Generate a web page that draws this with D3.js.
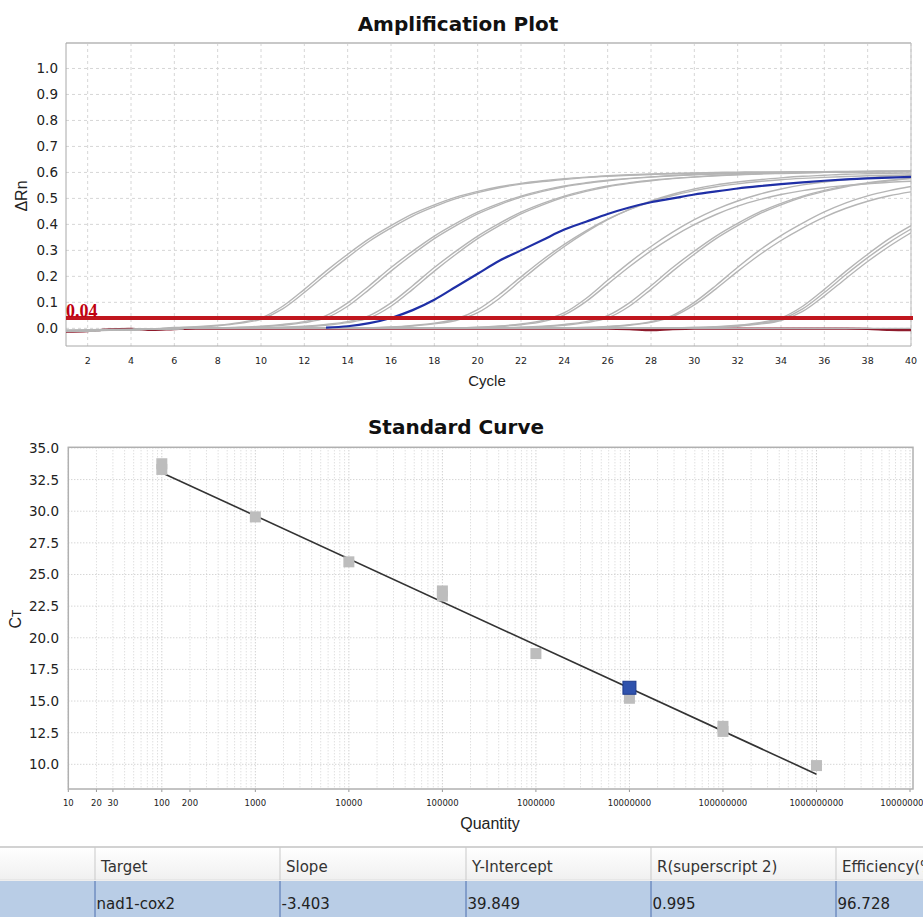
<!DOCTYPE html>
<html>
<head>
<meta charset="utf-8">
<script src="https://cdn.jsdelivr.net/npm/d3@7"></script>
<style>
  body { margin: 0; background: #fff; }
  svg { display: block; }
  text { font-family: "DejaVu Sans", sans-serif; fill: #222; }
</style>
</head>
<body>
<svg id="chart" width="923" height="917"></svg>
<script>
// ---- amplification plot data (delta Rn per cycle) ----
const cycles = [1,2,3,4,5,6,7,8,9,10,11,12,13,14,15,16,17,18,19,20,
                21,22,23,24,25,26,27,28,29,30,31,32,33,34,35,36,37,38,39,40];

const g1a = [-0.010,-0.009,-0.007,-0.005,-0.003, 0.003,0.006,0.012,0.022,0.040,
             0.085,0.150,0.220,0.285,0.345, 0.395,0.440,0.475,0.505,0.527,
             0.545,0.558,0.568,0.576,0.582, 0.587,0.591,0.594,0.596,0.598,
             0.600,0.601,0.602,0.602,0.603, 0.603,0.604,0.604,0.605,0.605];
const g1b = [-0.011,-0.010,-0.008,-0.005,-0.003, 0.002,0.005,0.010,0.019,0.035,
             0.075,0.138,0.207,0.273,0.335, 0.386,0.432,0.468,0.499,0.522,
             0.541,0.555,0.565,0.573,0.580, 0.585,0.589,0.592,0.595,0.597,
             0.598,0.599,0.600,0.600,0.601, 0.601,0.602,0.602,0.603,0.603];
const g2a = [-0.010,-0.009,-0.007,-0.005,-0.003, -0.001,0.001,0.002,0.004,0.008,
             0.015,0.026,0.049,0.098,0.164, 0.234,0.297,0.355,0.404,0.447,
             0.481,0.509,0.531,0.548,0.560, 0.570,0.577,0.583,0.588,0.592,
             0.595,0.597,0.599,0.600,0.601, 0.602,0.603,0.604,0.605,0.606];
const g2b = [-0.009,-0.008,-0.007,-0.005,-0.003, -0.001,0.001,0.002,0.003,0.006,
             0.012,0.022,0.040,0.085,0.150, 0.220,0.285,0.345,0.395,0.440,
             0.475,0.505,0.527,0.545,0.558, 0.568,0.576,0.582,0.587,0.591,
             0.594,0.596,0.598,0.600,0.601, 0.602,0.603,0.604,0.605,0.606];
const g3a = [-0.010,-0.009,-0.007,-0.005,-0.003, -0.001,0.001,0.002,0.002,0.002,
             0.004,0.008,0.015,0.026,0.049, 0.098,0.164,0.234,0.297,0.355,
             0.404,0.447,0.481,0.509,0.531, 0.548,0.560,0.570,0.577,0.583,
             0.588,0.592,0.595,0.597,0.599, 0.600,0.601,0.602,0.603,0.604];
const g3b = [-0.010,-0.009,-0.007,-0.005,-0.003, -0.001,0.001,0.002,0.002,0.002,
             0.003,0.006,0.012,0.022,0.040, 0.085,0.150,0.220,0.285,0.345,
             0.395,0.440,0.475,0.505,0.527, 0.545,0.558,0.568,0.576,0.582,
             0.587,0.591,0.594,0.596,0.598, 0.600,0.601,0.602,0.603,0.604];
const g4a = [-0.010,-0.009,-0.007,-0.005,-0.003, -0.001,0.001,0.002,0.002,0.002,
             0.002,0.002,0.002,0.002,0.002, 0.004,0.009,0.017,0.030,0.060,
             0.115,0.185,0.253,0.315,0.370, 0.418,0.458,0.490,0.516,0.536,
             0.552,0.563,0.572,0.579,0.585, 0.589,0.593,0.595,0.597,0.598];
const g4b = [-0.010,-0.009,-0.007,-0.005,-0.003, -0.001,0.001,0.002,0.002,0.002,
             0.002,0.002,0.002,0.002,0.002, 0.005,0.011,0.020,0.036,0.072,
             0.130,0.198,0.264,0.323,0.375, 0.420,0.457,0.487,0.511,0.530,
             0.545,0.556,0.565,0.572,0.577, 0.581,0.584,0.587,0.589,0.590];
const g5a = [-0.010,-0.009,-0.007,-0.005,-0.003, -0.001,0.001,0.002,0.002,0.002,
             0.002,0.002,0.002,0.002,0.002, 0.002,0.002,0.002,0.002,0.004,
             0.009,0.017,0.030,0.060,0.115, 0.185,0.253,0.315,0.370,0.418,
             0.458,0.490,0.516,0.536,0.552, 0.563,0.572,0.579,0.585,0.589];
const g5b = [-0.010,-0.009,-0.007,-0.005,-0.003, -0.001,0.001,0.002,0.002,0.002,
             0.002,0.002,0.002,0.002,0.002, 0.002,0.002,0.002,0.002,0.003,
             0.007,0.014,0.026,0.052,0.103, 0.170,0.237,0.298,0.352,0.399,
             0.438,0.470,0.495,0.515,0.530, 0.541,0.550,0.556,0.562,0.566];
const g6a = [-0.010,-0.009,-0.007,-0.005,-0.003, -0.001,0.001,0.002,0.002,0.002,
             0.002,0.002,0.002,0.002,0.002, 0.002,0.002,0.002,0.002,0.002,
             0.002,0.003,0.006,0.012,0.022, 0.040,0.085,0.150,0.220,0.285,
             0.345,0.395,0.440,0.475,0.505, 0.527,0.545,0.558,0.568,0.576];
const g6b = [-0.010,-0.009,-0.007,-0.005,-0.003, -0.001,0.001,0.002,0.002,0.002,
             0.002,0.002,0.002,0.002,0.002, 0.002,0.002,0.002,0.002,0.002,
             0.002,0.004,0.008,0.015,0.026, 0.049,0.098,0.164,0.234,0.297,
             0.355,0.404,0.447,0.481,0.509, 0.531,0.548,0.560,0.570,0.577];
const g7a = [-0.010,-0.009,-0.007,-0.005,-0.003, -0.001,0.001,0.002,0.002,0.002,
             0.002,0.002,0.002,0.002,0.002, 0.002,0.002,0.002,0.002,0.002,
             0.002,0.002,0.002,0.002,0.003, 0.007,0.014,0.026,0.050,0.100,
             0.165,0.235,0.300,0.357,0.405, 0.448,0.483,0.510,0.530,0.546];
const g7b = [-0.010,-0.009,-0.007,-0.005,-0.003, -0.001,0.001,0.002,0.002,0.002,
             0.002,0.002,0.002,0.002,0.002, 0.002,0.002,0.002,0.002,0.002,
             0.002,0.002,0.002,0.002,0.003, 0.006,0.012,0.023,0.045,0.090,
             0.152,0.219,0.282,0.338,0.386, 0.428,0.462,0.489,0.510,0.525];
const g8a = [-0.010,-0.009,-0.007,-0.005,-0.003, -0.001,0.001,0.002,0.002,0.002,
             0.002,0.002,0.002,0.002,0.002, 0.002,0.002,0.002,0.002,0.002,
             0.002,0.002,0.002,0.002,0.002, 0.002,0.002,0.002,0.002,0.003,
             0.006,0.012,0.022,0.040,0.085, 0.150,0.220,0.285,0.345,0.395];
const g8b = [-0.010,-0.009,-0.007,-0.005,-0.003, -0.001,0.001,0.002,0.002,0.002,
             0.002,0.002,0.002,0.002,0.002, 0.002,0.002,0.002,0.002,0.002,
             0.002,0.002,0.002,0.002,0.002, 0.002,0.002,0.002,0.002,0.003,
             0.005,0.010,0.019,0.035,0.075, 0.138,0.207,0.272,0.331,0.382];
const g8c = [-0.010,-0.009,-0.007,-0.005,-0.003, -0.001,0.001,0.002,0.002,0.002,
             0.002,0.002,0.002,0.002,0.002, 0.002,0.002,0.002,0.002,0.002,
             0.002,0.002,0.002,0.002,0.002, 0.002,0.002,0.002,0.002,0.002,
             0.004,0.008,0.016,0.030,0.065, 0.125,0.192,0.257,0.316,0.368];
const ntc = [-0.006,-0.005,-0.004,-0.003,-0.002, 0.000,0.000,0.000,0.000,0.000,
             0.000,0.000,0.000,0.000,0.000, 0.000,0.000,0.000,0.000,0.000,
             0.000,0.000,0.000,0.000,0.000, 0.000,0.000,0.000,0.000,0.000,
             0.000,0.000,0.000,0.000,0.000, 0.000,0.000,0.000,0.000,0.000];
const ntcRed = [-0.013,-0.011,-0.004,-0.002,-0.006, -0.003,-0.001,-0.001,-0.001,-0.001,
                -0.001,-0.001,-0.001,-0.001,-0.001, -0.001,-0.001,-0.001,-0.001,-0.001,
                -0.001,-0.001,-0.001,-0.001,-0.001, -0.001,-0.003,-0.007,-0.003,-0.001,
                -0.001,-0.001,-0.001,-0.001,-0.001, -0.001,-0.001,-0.002,-0.006,-0.007];
// selected well (blue), not visible before cycle 13
const selected = [null,null,null,null,null, null,null,null,null,null,
                  null,null,0.003,0.008,0.020, 0.040,0.070,0.110,0.160,0.210,
                  0.260,0.300,0.340,0.380,0.410, 0.440,0.465,0.485,0.500,0.515,
                  0.527,0.538,0.547,0.555,0.562, 0.568,0.573,0.577,0.580,0.583];

const grayCurves = [g8c, g8b, g8a, g7b, g7a, g6b, g6a, g5b, g5a, g4b, g4a,
                    g3b, g3a, g2b, g2a, g1b, g1a, ntc];
const threshold = 0.04;
const ampYTicks = [0.0,0.1,0.2,0.3,0.4,0.5,0.6,0.7,0.8,0.9,1.0];
const ampXTicks = [2,4,6,8,10,12,14,16,18,20,22,24,26,28,30,32,34,36,38,40];

// ---- standard curve data ----
const stdQuantity = [100, 100, 1000, 10000, 100000, 100000, 1000000,
                     10000000, 100000000, 100000000, 1000000000];
const stdCt = [33.3, 33.75, 29.55, 26.0, 23.3, 23.7, 18.75, 15.22, 12.6, 13.0, 9.9];
const unknownQuantity = [10000000];
const unknownCt = [16.05];
const stdXTickLabels = [10, 20, 30, 100, 200, 1000, 10000, 100000, 1000000,
                        10000000, 100000000, 1000000000, 10000000000];
const stdYTicks = [10.0, 12.5, 15.0, 17.5, 20.0, 22.5, 25.0, 27.5, 30.0, 32.5, 35.0];
const fitRange = [100, 1000000000];

// ---- results table ----
const tableHeaders = ['Target', 'Slope', 'Y-Intercept', 'R(superscript 2)', 'Efficiency(%)'];
const tableRow = ['nad1-cox2', '-3.403', '39.849', '0.995', '96.728'];
const fitSlope = -3.403;
const fitIntercept = 39.849;

const svg = d3.select('#chart');

// ================= Amplification Plot =================
const amp = { left: 66, right: 911, top: 43, bottom: 346 };
const xAmp = d3.scaleLinear().domain([1, 40]).range([amp.left, amp.right]);
const yAmp = d3.scaleLinear().domain([-0.068, 1.098]).range([amp.bottom, amp.top]);

svg.append('text')
    .attr('x', 458).attr('y', 31)
    .attr('text-anchor', 'middle')
    .style('font-size', '20px').style('font-weight', 'bold')
    .style('fill', '#111')
    .text('Amplification Plot');

const ampG = svg.append('g');

// grid
ampG.selectAll('.vgrid').data(ampXTicks).enter().append('line')
    .attr('x1', d => xAmp(d)).attr('x2', d => xAmp(d))
    .attr('y1', amp.top).attr('y2', amp.bottom)
    .attr('stroke', '#d6d6d6').attr('stroke-dasharray', '3,3');
ampG.selectAll('.hgrid').data(ampYTicks).enter().append('line')
    .attr('x1', amp.left).attr('x2', amp.right)
    .attr('y1', d => yAmp(d)).attr('y2', d => yAmp(d))
    .attr('stroke', '#d6d6d6').attr('stroke-dasharray', '3,3');

// tick labels
ampG.selectAll('.ylab').data(ampYTicks).enter().append('text')
    .attr('x', 58).attr('y', d => yAmp(d) + 5)
    .attr('text-anchor', 'end')
    .style('font-size', '13.5px')
    .text(d => d.toFixed(1));
ampG.selectAll('.xlab').data(ampXTicks).enter().append('text')
    .attr('x', d => xAmp(d)).attr('y', 364)
    .attr('text-anchor', 'middle')
    .style('font-size', '9.5px')
    .text(d => d);

svg.append('text')
    .attr('x', 487).attr('y', 386)
    .attr('text-anchor', 'middle')
    .style('font-family', '"Liberation Sans", Arial, sans-serif')
    .style('font-size', '15px')
    .text('Cycle');
svg.append('text')
    .attr('transform', 'translate(27,196) rotate(-90)')
    .attr('text-anchor', 'middle')
    .style('font-family', '"Liberation Sans", Arial, sans-serif')
    .style('font-size', '16px')
    .text('\u0394Rn');

const ampLine = d3.line()
    .defined(d => d != null)
    .x((d, i) => xAmp(cycles[i]))
    .y(d => yAmp(d))
    .curve(d3.curveMonotoneX);

svg.append('clipPath').attr('id', 'ampClip')
    .append('rect')
    .attr('x', amp.left).attr('y', amp.top)
    .attr('width', amp.right - amp.left).attr('height', amp.bottom - amp.top);

const curvesG = svg.append('g').attr('clip-path', 'url(#ampClip)');

curvesG.append('path')
    .attr('d', ampLine(ntcRed))
    .attr('fill', 'none').attr('stroke', '#8e1b2c').attr('stroke-width', 2.2);

curvesG.selectAll('.well').data(grayCurves).enter().append('path')
    .attr('d', d => ampLine(d))
    .attr('fill', 'none')
    .attr('stroke', '#b5b5b5')
    .attr('stroke-width', 1.4);

curvesG.append('path')
    .attr('d', ampLine(selected))
    .attr('fill', 'none').attr('stroke', '#1f2fa6').attr('stroke-width', 2.2);

// frame
ampG.append('line').attr('x1', amp.left).attr('x2', amp.right)
    .attr('y1', amp.top).attr('y2', amp.top)
    .attr('stroke', '#c8c8c8').attr('stroke-width', 2);
ampG.append('line').attr('x1', amp.left).attr('x2', amp.right)
    .attr('y1', amp.bottom).attr('y2', amp.bottom)
    .attr('stroke', '#a8a8a8').attr('stroke-width', 1);
ampG.append('line').attr('x1', amp.left).attr('x2', amp.left)
    .attr('y1', amp.top).attr('y2', amp.bottom)
    .attr('stroke', '#a8a8a8').attr('stroke-width', 1);
ampG.append('line').attr('x1', amp.right).attr('x2', amp.right)
    .attr('y1', amp.top).attr('y2', amp.bottom)
    .attr('stroke', '#bdbdbd').attr('stroke-width', 1);

// threshold
svg.append('line')
    .attr('x1', amp.left).attr('x2', amp.right + 2)
    .attr('y1', yAmp(threshold)).attr('y2', yAmp(threshold))
    .attr('stroke', '#c0161e').attr('stroke-width', 4);
svg.append('text')
    .attr('x', amp.left).attr('y', yAmp(threshold) - 1)
    .style('font-family', '"Liberation Serif", serif')
    .style('font-size', '18px').style('font-weight', 'bold')
    .style('fill', '#c00010')
    .text(threshold.toFixed(2));

// ================= Standard Curve =================
const std = { left: 68.3, right: 913, top: 447.3, bottom: 789 };
const xStd = d3.scaleLog().domain([10, 10000000000]).range([68.3, 910]);
const yStd = d3.scaleLinear().domain([8.05, 35.05]).range([std.bottom, std.top]);

svg.append('text')
    .attr('x', 456).attr('y', 434)
    .attr('text-anchor', 'middle')
    .style('font-size', '20px').style('font-weight', 'bold')
    .style('fill', '#111')
    .text('Standard Curve');

const stdG = svg.append('g');

stdG.selectAll('.vgrid').data(xStd.ticks()).enter().append('line')
    .attr('x1', d => xStd(d)).attr('x2', d => xStd(d))
    .attr('y1', std.top).attr('y2', std.bottom)
    .attr('stroke', d => Math.abs(Math.log10(d) % 1) < 1e-9 ? '#bdbdbd' : '#d2d2d2')
    .attr('stroke-dasharray', '1,2');
stdG.selectAll('.hgrid').data(stdYTicks).enter().append('line')
    .attr('x1', std.left).attr('x2', std.right)
    .attr('y1', d => yStd(d)).attr('y2', d => yStd(d))
    .attr('stroke', '#c4c4c4').attr('stroke-dasharray', '1,2');

stdG.selectAll('.ylab').data(stdYTicks).enter().append('text')
    .attr('x', 59).attr('y', d => yStd(d) + 5)
    .attr('text-anchor', 'end')
    .style('font-size', '13.5px')
    .text(d => d.toFixed(1));

stdG.selectAll('.xtick').data(stdXTickLabels).enter().append('line')
    .attr('x1', d => xStd(d)).attr('x2', d => xStd(d))
    .attr('y1', std.bottom).attr('y2', std.bottom + 3)
    .attr('stroke', '#999');
stdG.selectAll('.xlab').data(stdXTickLabels).enter().append('text')
    .attr('x', d => xStd(d)).attr('y', 805.5)
    .attr('text-anchor', 'middle')
    .style('font-size', '8.5px')
    .text(d => d3.format('d')(d));

svg.append('text')
    .attr('x', 490).attr('y', 829)
    .attr('text-anchor', 'middle')
    .style('font-family', '"Liberation Sans", Arial, sans-serif')
    .style('font-size', '16px')
    .text('Quantity');
const ctLabel = svg.append('text')
    .attr('transform', 'translate(21,619) rotate(-90)')
    .attr('text-anchor', 'middle')
    .style('font-family', '"Liberation Sans", Arial, sans-serif')
    .style('font-size', '16px');
ctLabel.append('tspan').text('C');
ctLabel.append('tspan').style('font-size', '12px').text('T');

// frame
stdG.append('rect')
    .attr('x', std.left).attr('y', std.top)
    .attr('width', std.right - std.left).attr('height', std.bottom - std.top)
    .attr('fill', 'none').attr('stroke', '#b0b0b0').attr('stroke-width', 1.5);

// fit line
svg.append('line')
    .attr('x1', xStd(fitRange[0])).attr('y1', yStd(fitIntercept + fitSlope * Math.log10(fitRange[0])))
    .attr('x2', xStd(fitRange[1])).attr('y2', yStd(fitIntercept + fitSlope * Math.log10(fitRange[1])))
    .attr('stroke', '#333').attr('stroke-width', 1.6);

const sq = 11;
svg.selectAll('.stdpt').data(stdQuantity).enter().append('rect')
    .attr('x', d => xStd(d) - sq / 2)
    .attr('y', (d, i) => yStd(stdCt[i]) - sq / 2)
    .attr('width', sq).attr('height', sq)
    .attr('fill', '#bdbdbd');
svg.selectAll('.unkpt').data(unknownQuantity).enter().append('rect')
    .attr('x', d => xStd(d) - 6.5)
    .attr('y', (d, i) => yStd(unknownCt[i]) - 6.5)
    .attr('width', 13).attr('height', 13)
    .attr('fill', '#2f52ad').attr('stroke', '#1d3a8c').attr('stroke-width', 1);

// ================= Results table =================
const colX = [0, 95, 280, 466, 651, 836, 923];
const tableG = svg.append('g');
const hdrGrad = svg.append('defs').append('linearGradient')
    .attr('id', 'hdrGrad').attr('x1', 0).attr('x2', 0).attr('y1', 0).attr('y2', 1);
hdrGrad.append('stop').attr('offset', '0%').attr('stop-color', '#ffffff');
hdrGrad.append('stop').attr('offset', '100%').attr('stop-color', '#f0f0f0');

tableG.append('rect').attr('x', 0).attr('y', 847).attr('width', 923).attr('height', 33)
    .attr('fill', 'url(#hdrGrad)');
tableG.append('line').attr('x1', 0).attr('x2', 923).attr('y1', 847).attr('y2', 847)
    .attr('stroke', '#a6a6a6').attr('stroke-width', 1.2);
tableG.append('line').attr('x1', 0).attr('x2', 923).attr('y1', 880).attr('y2', 880)
    .attr('stroke', '#dedede');
tableG.append('rect').attr('x', 0).attr('y', 881).attr('width', 923).attr('height', 36)
    .attr('fill', '#b9cde6');

tableG.selectAll('.hdiv').data(colX.slice(1, 6)).enter().append('line')
    .attr('x1', d => d).attr('x2', d => d).attr('y1', 847).attr('y2', 880)
    .attr('stroke', '#c9c9c9');
tableG.selectAll('.rdiv').data(colX.slice(1, 6)).enter().append('line')
    .attr('x1', d => d).attr('x2', d => d).attr('y1', 881).attr('y2', 917)
    .attr('stroke', '#4d6fae');

tableG.selectAll('.htext').data(tableHeaders).enter().append('text')
    .attr('x', (d, i) => colX[i + 1] + 6).attr('y', 872)
    .style('font-size', '15px').style('fill', '#333')
    .text(d => d);
tableG.selectAll('.rtext').data(tableRow).enter().append('text')
    .attr('x', (d, i) => colX[i + 1] + 1.5).attr('y', 909)
    .style('font-size', '15px').style('fill', '#222')
    .text(d => d);
</script>
</body>
</html>
